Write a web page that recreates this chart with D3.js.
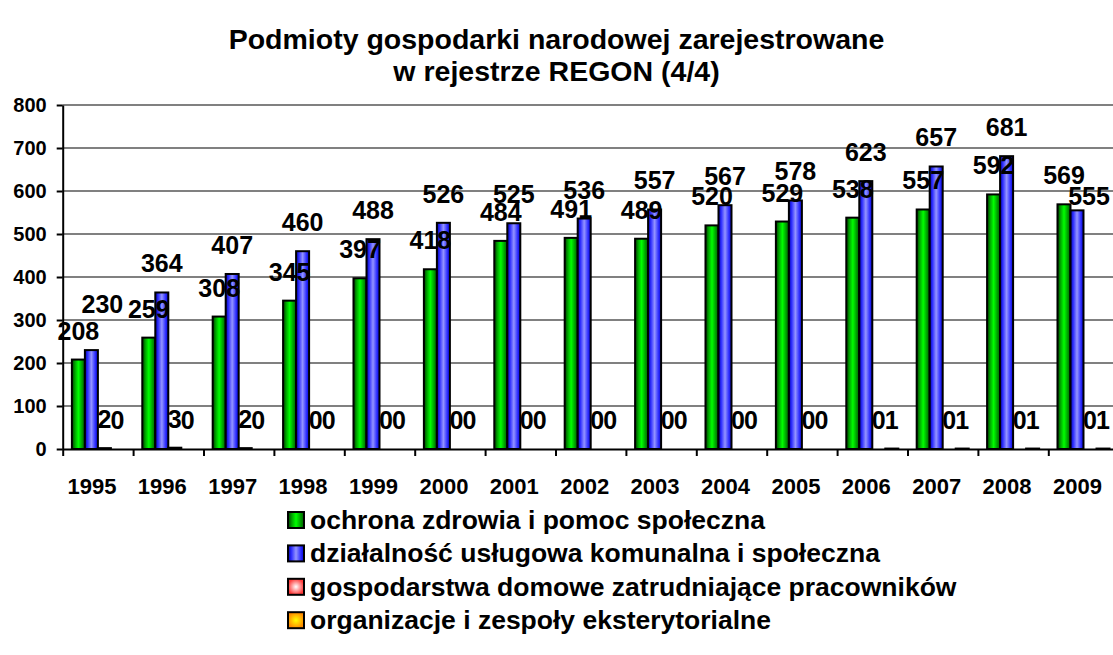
<!DOCTYPE html>
<html>
<head>
<meta charset="utf-8">
<script src="https://cdn.jsdelivr.net/npm/d3@7"></script>
<style>
  body { margin: 0; background: #fff; }
  svg { display: block; font-family: Arial, "Liberation Sans", sans-serif; font-weight: bold; }
</style>
</head>
<body>
<svg width="1113" height="655"></svg>
<script>
// data
var years = ["1995", "1996", "1997", "1998", "1999", "2000", "2001", "2002",
             "2003", "2004", "2005", "2006", "2007", "2008", "2009"];
var ochrona = [208, 259, 308, 345, 397, 418, 484, 491, 489, 520, 529, 538, 557, 592, 569];
var dzialalnosc = [230, 364, 407, 460, 488, 526, 525, 536, 557, 567, 578, 623, 657, 681, 555];
var gospodarstwa = [2, 3, 2, 0, 0, 0, 0, 0, 0, 0, 0, 0, 0, 0, 0];
var organizacje = [0, 0, 0, 0, 0, 0, 0, 0, 0, 0, 0, 1, 1, 1, 1];
var seriesNames = ["ochrona zdrowia i pomoc społeczna",
                   "działalność usługowa komunalna i społeczna",
                   "gospodarstwa domowe zatrudniające pracowników",
                   "organizacje i zespoły eksterytorialne"];
var yTicks = [0, 100, 200, 300, 400, 500, 600, 700, 800];

var series = [ochrona, dzialalnosc, gospodarstwa, organizacje];
var fills = ["url(#gGreen)", "url(#gBlue)", "url(#gPink)", "url(#gOrange)"];

// a couple of labels were moved by hand in the original chart
var labelNudge = { "0-1": [11, -17], "14-1": [12, 15] };

var svg = d3.select("svg");
// plot box (runs a bit past the right edge, like the original)
var plotLeft = 62.7, plotRight = 1118.7, plotTop = 105, plotBottom = 449;

var x0 = d3.scaleBand().domain(years).range([plotLeft, plotRight])
    .paddingInner(0.261).paddingOuter(0.1305);
var x1 = d3.scaleBand().domain(d3.range(series.length)).range([0, x0.bandwidth()]);
var y = d3.scaleLinear().domain([0, 800]).range([plotBottom, plotTop]);

// gradients
var defs = svg.append("defs");
function linGrad(id, stops) {
    var g = defs.append("linearGradient").attr("id", id)
        .attr("x1", "0%").attr("x2", "100%").attr("y1", "0%").attr("y2", "0%");
    stops.forEach(function (s) {
        g.append("stop").attr("offset", s[0]).attr("stop-color", s[1]);
    });
}
function radGrad(id, inner, outer) {
    var g = defs.append("radialGradient").attr("id", id);
    g.append("stop").attr("offset", "0%").attr("stop-color", inner);
    g.append("stop").attr("offset", "100%").attr("stop-color", outer);
}
linGrad("gGreen", [["0%", "#003c00"], ["25%", "#00a800"], ["50%", "#00ff00"],
                   ["78%", "#00a000"], ["100%", "#005c00"]]);
linGrad("gBlue", [["0%", "#0000b0"], ["22%", "#3030ff"], ["50%", "#9494ff"],
                  ["78%", "#3434ff"], ["100%", "#0000d8"]]);
radGrad("gPink", "#ffffff", "#ff3c3c");
radGrad("gOrange", "#ffff00", "#ff8c00");

// gridlines
svg.append("g").selectAll("line")
    .data(yTicks.filter(function (d) { return d > 0; }))
    .join("line")
    .attr("x1", plotLeft).attr("x2", 1113)
    .attr("y1", function (d) { return y(d); })
    .attr("y2", function (d) { return y(d); })
    .attr("stroke", "#808080").attr("stroke-width", 2);

// bars
var groups = svg.append("g").selectAll("g")
    .data(years)
    .join("g")
    .attr("transform", function (d) { return "translate(" + x0(d) + ",0)"; });

groups.selectAll("rect")
    .data(function (d, i) {
        return series.map(function (s, k) { return { k: k, v: s[i] }; });
    })
    .join("rect")
    .attr("x", function (d) { return x1(d.k); })
    .attr("width", x1.bandwidth())
    .attr("y", function (d) { return y(d.v); })
    .attr("height", function (d) { return y(0) - y(d.v); })
    .attr("fill", function (d) { return fills[d.k]; })
    .attr("stroke", "#000").attr("stroke-width", 2);

// axes
var yAxis = d3.axisLeft(y).tickValues(yTicks).tickSize(6).tickSizeOuter(0).tickPadding(10);
var gy = svg.append("g").attr("transform", "translate(" + plotLeft + ",0)").call(yAxis);
gy.select(".domain").attr("stroke-width", 2);
gy.selectAll(".tick line").attr("stroke-width", 2);
gy.selectAll("text").attr("font-size", 20).attr("font-family", null).attr("fill", "#000");

var xAxis = d3.axisBottom(d3.scaleLinear().domain([0, years.length]).range([plotLeft, plotRight]))
    .tickValues(d3.range(years.length + 1)).tickSize(7).tickSizeOuter(0).tickFormat("");
var gx = svg.append("g").attr("transform", "translate(0," + plotBottom + ")").call(xAxis);
gx.select(".domain").attr("stroke-width", 2);
gx.selectAll(".tick line").attr("stroke-width", 2);

// year labels sit a little left of the category centre in the original
svg.append("g").selectAll("text")
    .data(years)
    .join("text")
    .attr("x", function (d) { return x0(d) + x0.bandwidth() / 2 - 6; })
    .attr("y", 494)
    .attr("text-anchor", "middle")
    .attr("font-size", 22)
    .text(function (d) { return d; });

// value labels on top of everything
groups.selectAll("text")
    .data(function (d, i) {
        return series.map(function (s, k) { return { k: k, v: s[i], key: i + "-" + k }; });
    })
    .join("text")
    .attr("x", function (d) {
        var n = labelNudge[d.key];
        return x1(d.k) + x1.bandwidth() / 2 + (n ? n[0] : 0);
    })
    .attr("y", function (d) {
        var n = labelNudge[d.key];
        return y(d.v) - 20 + (n ? n[1] : 0);
    })
    .attr("text-anchor", "middle")
    .attr("font-size", 25)
    .text(function (d) { return d.v; });

// title
svg.append("text")
    .attr("x", 556.5).attr("y", 49)
    .attr("text-anchor", "middle").attr("font-size", 28.5)
    .selectAll("tspan")
    .data(["Podmioty gospodarki narodowej zarejestrowane", "w rejestrze REGON (4/4)"])
    .join("tspan")
    .attr("x", 556.5)
    .attr("dy", function (d, i) { return i ? 32 : 0; })
    .text(function (d) { return d; });

// legend
var legend = svg.append("g").selectAll("g")
    .data(seriesNames)
    .join("g")
    .attr("transform", function (d, i) { return "translate(288," + (520 + i * 33.4) + ")"; });
legend.append("rect")
    .attr("x", 0).attr("y", -8).attr("width", 16).attr("height", 16)
    .attr("fill", function (d, i) { return fills[i]; })
    .attr("stroke", "#000").attr("stroke-width", 2);
legend.append("text")
    .attr("x", 22).attr("y", 9)
    .attr("font-size", 26.5)
    .text(function (d) { return d; });
</script>
</body>
</html>
